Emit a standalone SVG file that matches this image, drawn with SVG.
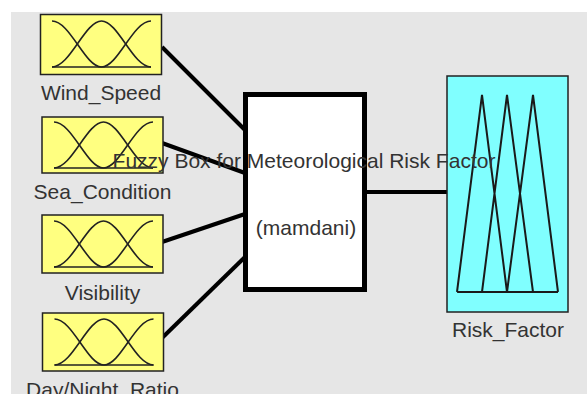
<svg xmlns="http://www.w3.org/2000/svg" width="587" height="394" viewBox="0 0 587 394">
  <style>
    .lbl { font-family: "Liberation Sans", Arial, sans-serif; font-size: 21px; fill: #333; text-anchor: middle; }
    .inbox { fill: #ffff80; stroke: #222; stroke-width: 1.5; }
    .outbox { fill: #80ffff; stroke: #222; stroke-width: 1.5; }
    .mf { fill: none; stroke: #222; stroke-width: 1.6; }
    .tri { fill: none; stroke: #1a1a1a; stroke-width: 2; stroke-linejoin: miter; }
    .conn { stroke: #000; stroke-width: 4; fill: none; }
  </style>
  <defs>
    <g id="mfIcon">
      <path class="mf" d="M12,6 C30,6 45,52 61.5,52 C78,52 93,6 111,6"/>
      <path class="mf" d="M12,52 C30,52 45,6 61.5,6 C78,6 93,52 111,52"/>
      <path class="mf" d="M12,52 L111,52"/>
    </g>
  </defs>
  <rect x="0" y="0" width="587" height="394" fill="#ffffff"/>
  <rect x="11" y="12" width="576" height="382" fill="#e6e6e6"/>

  <g id="connectors">
    <line class="conn" x1="162" y1="47" x2="245" y2="130"/>
    <line class="conn" x1="162" y1="143" x2="245" y2="173"/>
    <line class="conn" x1="162" y1="242" x2="245" y2="214"/>
    <line class="conn" x1="162" y1="338" x2="245" y2="257"/>
    <line class="conn" x1="366" y1="192" x2="447" y2="192"/>
  </g>

  <g id="wind_speed">
    <rect class="inbox" x="40.5" y="14.5" width="121" height="60"/>
    <use href="#mfIcon" transform="translate(40,15)"/>
    <text class="lbl" x="101" y="100">Wind_Speed</text>
  </g>
  <g id="sea_condition">
    <rect class="inbox" x="42" y="117" width="121" height="56"/>
    <use href="#mfIcon" transform="translate(42,116)"/>
    <text class="lbl" x="102.5" y="199">Sea_Condition</text>
  </g>
  <g id="visibility">
    <rect class="inbox" x="42" y="215" width="121" height="58"/>
    <use href="#mfIcon" transform="translate(42,215)"/>
    <text class="lbl" x="102.5" y="300">Visibility</text>
  </g>
  <g id="day_night_ratio">
    <rect class="inbox" x="42.5" y="313" width="121" height="58"/>
    <use href="#mfIcon" transform="translate(42.5,313)"/>
    <text class="lbl" x="102.5" y="397">Day/Night_Ratio</text>
  </g>

  <g id="fis">
    <rect x="245.5" y="94.5" width="119" height="195" fill="#ffffff" stroke="#000" stroke-width="5"/>
  </g>

  <g id="risk_factor">
    <rect class="outbox" x="447" y="76" width="121" height="236"/>
    <path class="tri" d="M457,292 L482,95 L507,292 M482,292 L507,95 L533,292 M507,292 L533,95 L558,292 M457,292 L558,292"/>
    <text class="lbl" x="508" y="337">Risk_Factor</text>
  </g>

  <g id="fis_labels">
    <text class="lbl" x="304" y="168">Fuzzy Box for Meteorological Risk Factor</text>
    <text class="lbl" x="306" y="235">(mamdani)</text>
  </g>
</svg>
